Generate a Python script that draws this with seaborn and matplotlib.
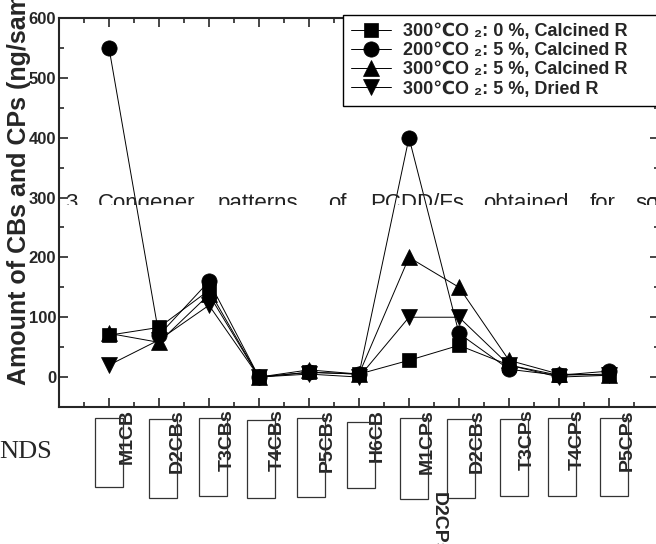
import numpy as np
import matplotlib
matplotlib.use('Agg')
import matplotlib.pyplot as plt
import matplotlib.transforms as mtransforms
from matplotlib.patches import Rectangle
import seaborn as sns

# congeners on the x axis (D2CBs really appears twice in the source figure)
categories = ['M1CB', 'D2CBs', 'T3CBs', 'T4CBs', 'P5CBs', 'H6CB',
              'M1CPs', 'D2CBs', 'T3CPs', 'T4CPs', 'P5CPs']
yticks = [0, 100, 200, 300, 400, 500, 600]

# amounts (ng/sample)
sq_300_o0_calc = [70, 83, 145, 0, 8, 5, 28, 53, 20, 3, 5]
ci_200_o5_calc = [550, 70, 160, 0, 8, 5, 400, 73, 13, 3, 10]
tu_300_o5_calc = [73, 58, 138, 0, 12, 5, 200, 150, 28, 5, 3]
td_300_o5_dried = [20, 62, 120, 0, 5, 0, 100, 100, 20, 0, 3]

series_labels = ['300℃O ₂: 0 %, Calcined R',
                 '200℃O ₂: 5 %, Calcined R',
                 '300℃O ₂: 5 %, Calcined R',
                 '300℃O ₂: 5 %, Dried R']

sns.set_style('ticks')
plt.rcParams['font.family'] = ['Liberation Sans', 'DejaVu Sans']
plt.rcParams['font.weight'] = 'bold'

W, H = 656, 544
fig = plt.figure(figsize=(W / 100, H / 100), dpi=100)
ax = fig.add_axes([59 / W, 1 - 407 / H, 600 / W, 389 / H])

pos = np.arange(1, len(categories) + 1)
series = [sq_300_o0_calc, ci_200_o5_calc, tu_300_o5_calc, td_300_o5_dried]
markers = ['s', 'o', '^', 'v']
msizes = [10, 11, 12, 12]
for vals, mk, ms, lab in zip(series, markers, msizes, series_labels):
    sns.lineplot(x=pos, y=vals, marker=mk, markersize=ms, color='black',
                 markeredgecolor='black', markeredgewidth=0.5,
                 linewidth=0.7, label=lab, ax=ax)

ax.set_xlim(0, 12)
ax.set_ylim(-50, 600)
ax.set_xticks(pos)
ax.set_xticks(np.arange(0.5, 12, 1), minor=True)
ax.set_yticks(yticks)
ax.set_yticks(np.arange(-50, 600, 100), minor=True)
ax.set_xticklabels(categories, rotation=90, fontsize=14, fontweight='bold')
ax.set_yticklabels([str(v) for v in yticks], fontsize=12, fontweight='bold')
ax.tick_params(which='both', direction='in', top=True, right=True, width=1.2)
ax.tick_params(which='major', length=6.5)
ax.tick_params(which='minor', length=3.5)
ax.tick_params(axis='x', pad=1.5)
ax.tick_params(axis='y', pad=2)
for sp in ax.spines.values():
    sp.set_linewidth(1.5)
ax.set_xlabel('')
ax.set_ylabel('')

# tick labels sit to the right of their ticks
shift = mtransforms.ScaledTranslation(18 / 100, 0, fig.dpi_scale_trans)
for lab in ax.get_xticklabels():
    lab.set_transform(lab.get_transform() + shift)

leg = ax.legend(loc='upper left',
                bbox_to_anchor=(343 / W, 1 - 128 / H, 330 / W, 113 / H),
                bbox_transform=fig.transFigure, mode='expand', borderaxespad=0,
                prop={'size': 13, 'weight': 'bold'}, handlelength=2.2,
                handletextpad=0.7, labelspacing=0.12, borderpad=0.45,
                fancybox=False, framealpha=1, edgecolor='black')
leg.get_frame().set_linewidth(1.0)

fig.text(19 / W, 1 - 385 / H, 'Amount of CBs and CPs (ng/sample)', rotation=90,
         ha='center', va='bottom', fontsize=18, fontweight='bold')

# stray pieces of the page the chart was cut from
words = ['3', 'Congener', 'patterns', 'of', 'PCDD/Fs', 'obtained', 'for', 'solid']
word_x = [65, 98, 218, 328, 370, 483, 590, 635]
clip = mtransforms.Bbox.from_extents(0, H - 205, W, H)
for w, x in zip(words, word_x):
    t = fig.text(x / W, 1 - 209 / H, w, fontsize=16, fontweight='normal',
                 color='#222222')
    t.set_clip_box(clip)
    t.set_clip_on(True)

fig.text(52 / W, 1 - 452 / H, 'NDS', ha='right', va='center',
         family='Liberation Serif', fontsize=19, fontweight='normal')
fig.text(438 / W, 1 - 492 / H, 'D2CPs', rotation=-90, ha='center', va='top',
         fontsize=14, fontweight='bold')

box_left = [-14, -10, -10, -12, -12, -12, -9, -12, -9, -11, -9]
box_top = [418, 419, 418, 420, 418, 422, 418, 419, 419, 418, 418]
box_bottom = [487, 498, 496, 498, 497, 488, 499, 498, 496, 496, 496]
blend = mtransforms.blended_transform_factory(ax.transData, fig.transFigure)
for p, l, t, b in zip(pos, box_left, box_top, box_bottom):
    fig.add_artist(Rectangle((p + l / 50, 1 - b / H), 28 / 50, (b - t) / H,
                             transform=blend, fill=False, edgecolor='#333333',
                             linewidth=0.9, clip_on=False))

fig.savefig('out.png', dpi=100)
